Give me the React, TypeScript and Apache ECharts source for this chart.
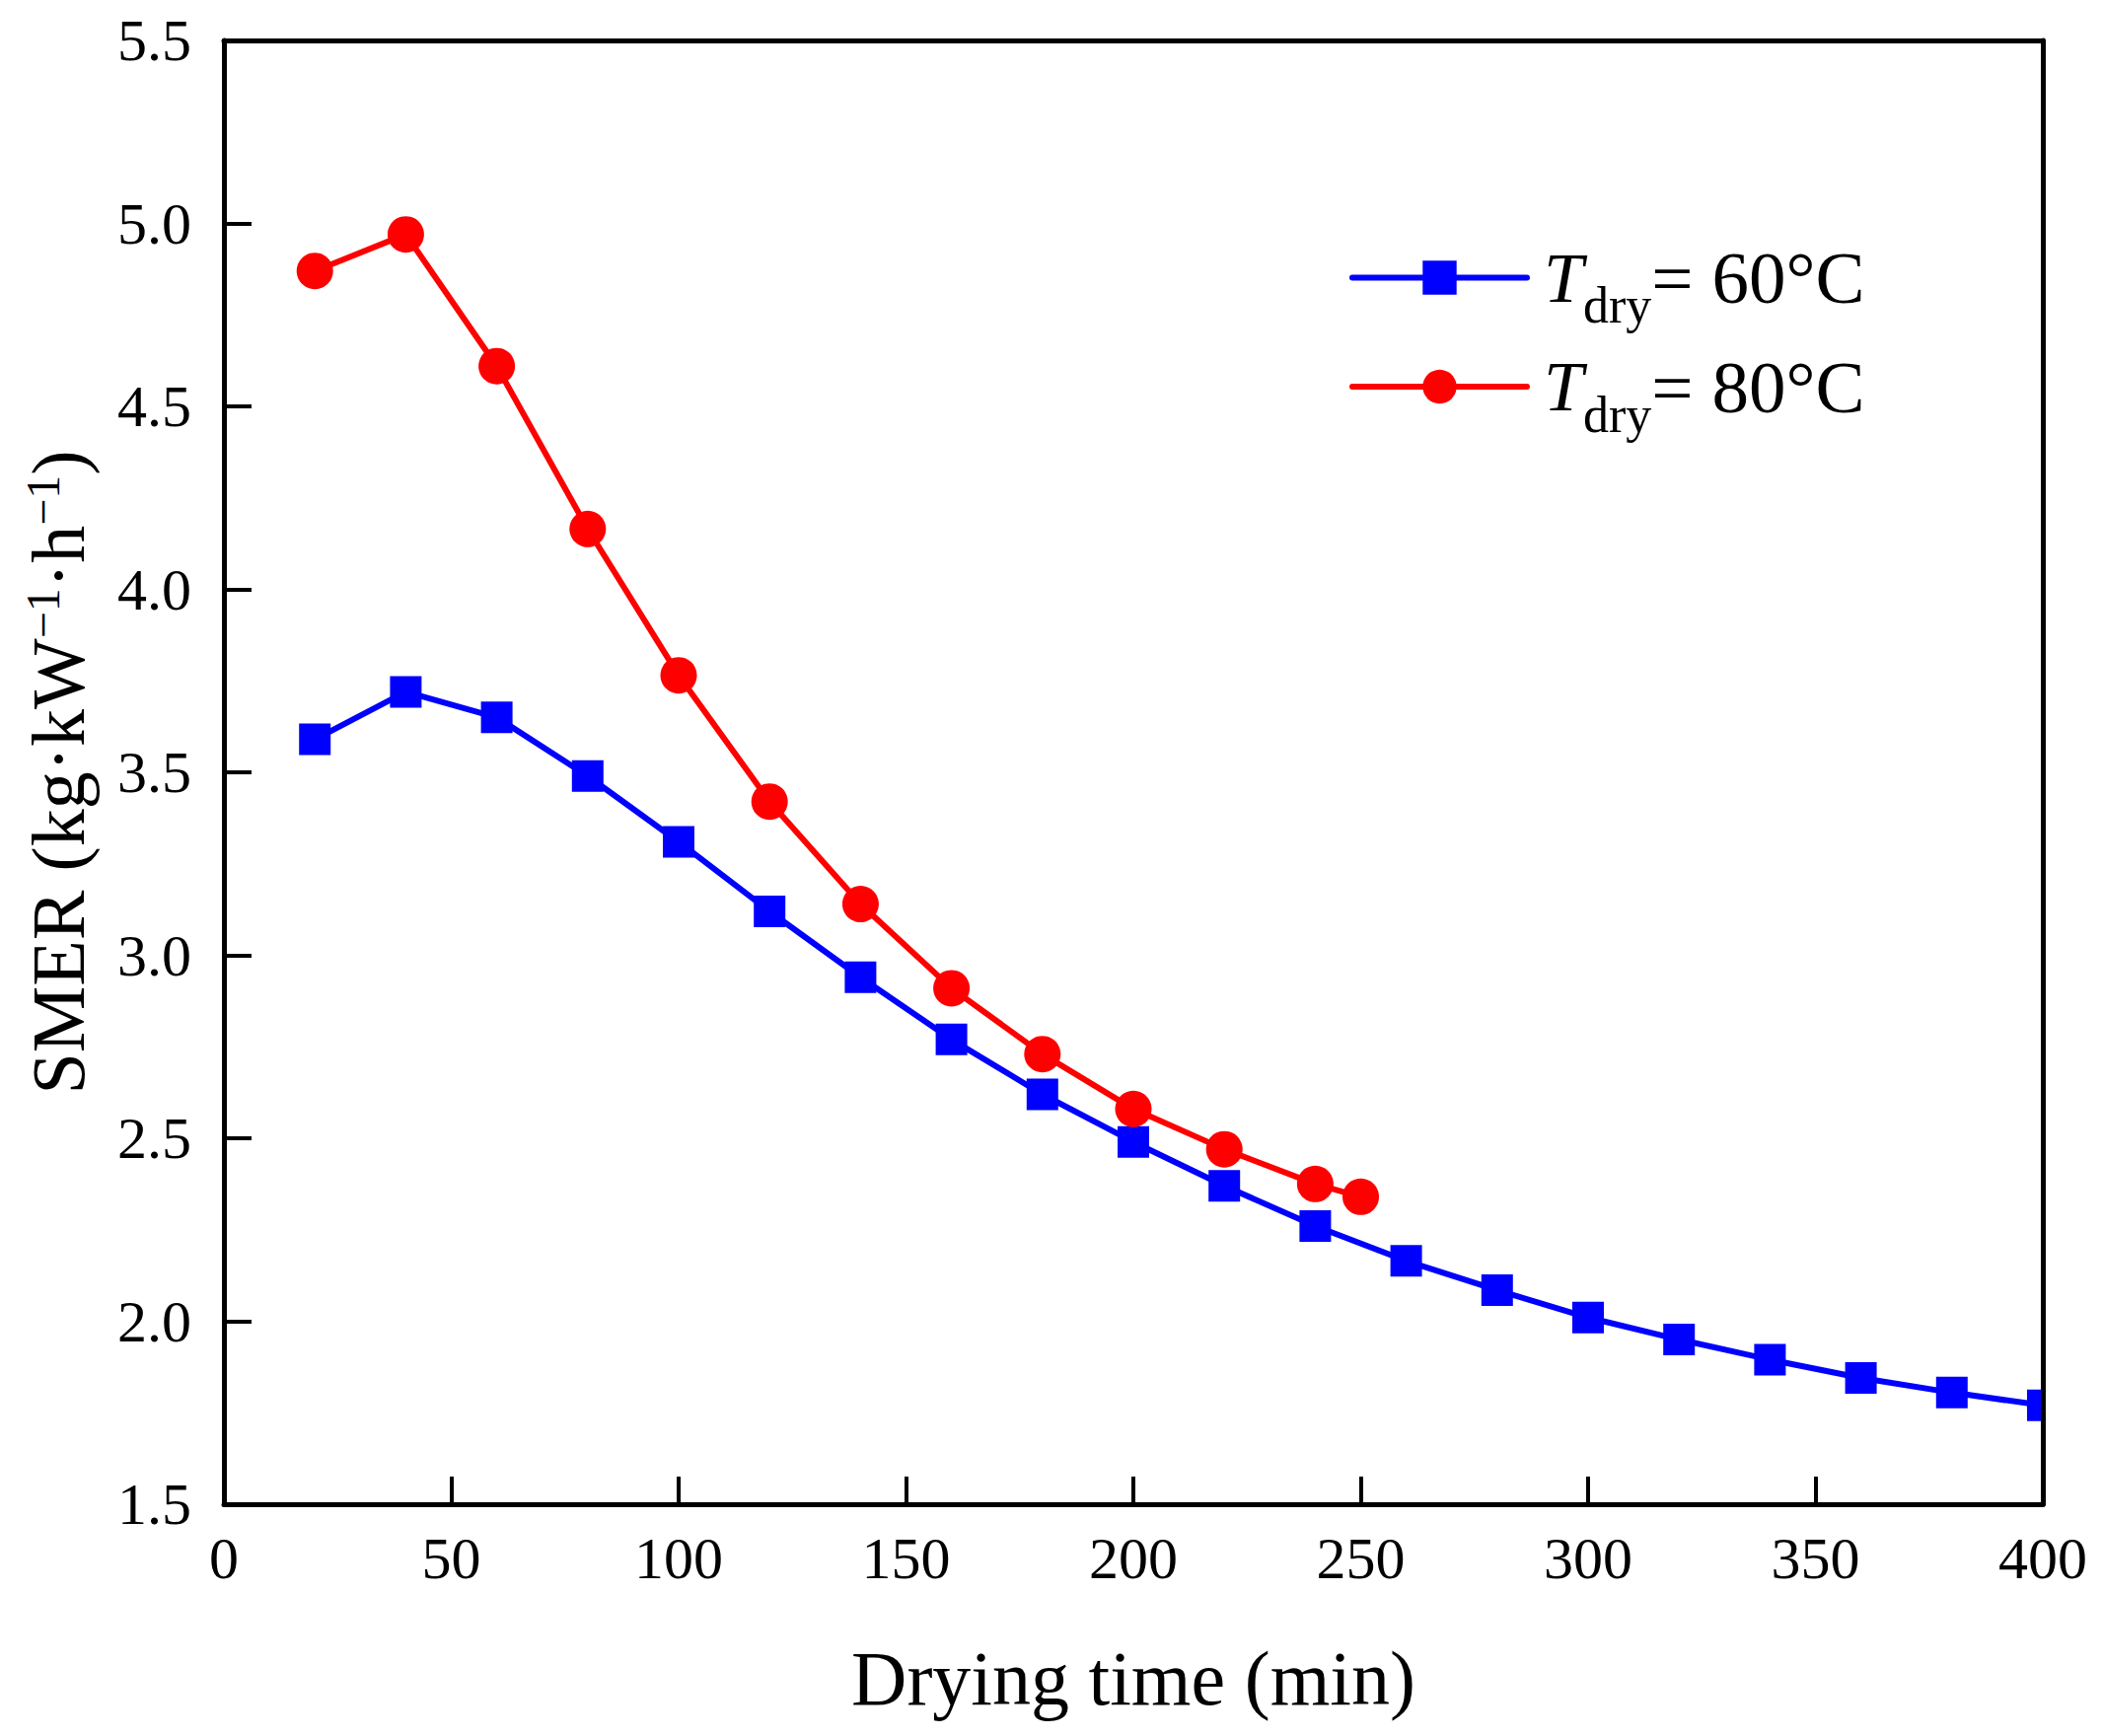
import React, { useEffect, useRef } from "react";
import * as echarts from "echarts";

const FONT = "'Liberation Serif', 'Times New Roman', serif";

const time60 = [20, 40, 60, 80, 100, 120, 140, 160, 180, 200, 220, 240, 260, 280, 300, 320, 340, 360, 380, 400];
const smer60 = [3.59, 3.72, 3.65, 3.49, 3.31, 3.12, 2.94, 2.77, 2.62, 2.49, 2.37, 2.26, 2.165, 2.085, 2.01, 1.95, 1.895, 1.845, 1.805, 1.77];

const time80 = [20, 40, 60, 80, 100, 120, 140, 160, 180, 200, 220, 240, 250];
const smer80 = [4.87, 4.97, 4.61, 4.165, 3.765, 3.42, 3.14, 2.91, 2.73, 2.58, 2.47, 2.375, 2.34];

const seriesTemps = ["60", "80"];
const seriesColors = ["#0000FF", "#FF0000"];
const seriesSymbols = ["rect", "circle"];
const seriesSymbolSizes = [32, 37];

const xMin = 0;
const xMax = 400;
const xStep = 50;
const yMin = 1.5;
const yMax = 5.5;
const yStep = 0.5;

const xTitle = "Drying time (min)";
const yTitleParts = ["SMER (kg·kW", "−1", "·h", "−1", ")"];

const seriesName = (t: string) => `T_dry = ${t}°C`;

export default function App() {
  const ref = useRef<HTMLDivElement>(null);

  useEffect(() => {
    document.body.style.margin = "0";
    if (!ref.current) return;
    const chart = echarts.init(ref.current, null, { renderer: "svg" });

    const datasets = [
      time60.map((t, i) => [t, smer60[i]]),
      time80.map((t, i) => [t, smer80[i]]),
    ];

    const axisLine = { show: true, onZero: false, lineStyle: { color: "#000", width: 5 } };

    const yName =
      `{n|${yTitleParts[0]}}{p|${yTitleParts[1]}}{n|${yTitleParts[2]}}{p|${yTitleParts[3]}}{n|${yTitleParts[4]}}`;

    chart.setOption({
      animation: false,
      backgroundColor: "#fff",
      textStyle: { fontFamily: FONT, color: "#000" },
      grid: { left: 227, top: 41, width: 1844, height: 1484, containLabel: false },
      graphic: [
        {
          type: "rect",
          left: 2074,
          top: 0,
          z: 100,
          shape: { width: 57, height: 1530 },
          style: { fill: "#fff" },
          silent: true,
        },
      ],
      legend: {
        orient: "vertical",
        left: 1363,
        top: 239,
        itemWidth: 177,
        itemHeight: 43,
        itemGap: 19,
        padding: 5,
        selectedMode: false,
        lineStyle: { width: 6, cap: "round" },
        data: seriesTemps.map((t) => seriesName(t)),
        formatter: (name: string) => {
          const t = seriesTemps.find((s) => seriesName(s) === name) ?? "";
          return `{i|T}{s|dry}{n|= ${t}°C}`;
        },
        textStyle: {
          fontFamily: FONT,
          color: "#000",
          rich: {
            i: { fontFamily: FONT, fontStyle: "italic", fontSize: 72, lineHeight: 70, color: "#000", padding: [0, 0, 0, 12] },
            s: { fontFamily: FONT, fontSize: 52, lineHeight: 16, verticalAlign: "top", padding: [37, 0, 0, 0], color: "#000" },
            n: { fontFamily: FONT, fontSize: 75, lineHeight: 70, color: "#000" },
          },
        },
      },
      xAxis: [
        {
          type: "value",
          min: xMin,
          max: xMax,
          interval: xStep,
          position: "bottom",
          z: 5,
          name: xTitle,
          nameLocation: "middle",
          nameGap: 137,
          nameTextStyle: { fontFamily: FONT, fontSize: 78, color: "#000" },
          axisLine,
          axisTick: { show: true, inside: true, length: 28, lineStyle: { color: "#000", width: 4 } },
          axisLabel: { fontFamily: FONT, fontSize: 60, color: "#000", margin: 25 },
          splitLine: { show: false },
        },
        {
          type: "value",
          min: xMin,
          max: xMax,
          interval: xStep,
          position: "top",
          z: 5,
          axisLine,
          axisTick: { show: false },
          axisLabel: { show: false },
          splitLine: { show: false },
        },
      ],
      yAxis: [
        {
          type: "value",
          min: yMin,
          max: yMax,
          interval: yStep,
          position: "left",
          z: 5,
          name: yName,
          nameLocation: "middle",
          nameGap: 128,
          nameTextStyle: {
            fontFamily: FONT,
            color: "#000",
            rich: {
              n: { fontFamily: FONT, fontSize: 76, lineHeight: 80, color: "#000" },
              p: { fontFamily: FONT, fontSize: 48, lineHeight: 39, verticalAlign: "top", color: "#000" },
            },
          },
          axisLine,
          axisTick: { show: true, inside: true, length: 28, lineStyle: { color: "#000", width: 4 } },
          axisLabel: {
            fontFamily: FONT,
            fontSize: 60,
            color: "#000",
            margin: 33,
            formatter: (v: number) => v.toFixed(1),
          },
          splitLine: { show: false },
        },
        {
          type: "value",
          min: yMin,
          max: yMax,
          interval: yStep,
          position: "right",
          z: 5,
          axisLine,
          axisTick: { show: false },
          axisLabel: { show: false },
          splitLine: { show: false },
        },
      ],
      series: seriesTemps.map((t, i) => ({
        name: seriesName(t),
        type: "line",
        xAxisIndex: 0,
        yAxisIndex: 0,
        data: datasets[i],
        symbol: seriesSymbols[i],
        symbolSize: seriesSymbolSizes[i],
        showAllSymbol: true,
        clip: true,
        lineStyle: { color: seriesColors[i], width: 6 },
        itemStyle: { color: seriesColors[i], borderWidth: 0 },
        emphasis: { disabled: true },
      })),
    });

    return () => chart.dispose();
  }, []);

  return <div ref={ref} style={{ width: 2131, height: 1760 }} />;
}
